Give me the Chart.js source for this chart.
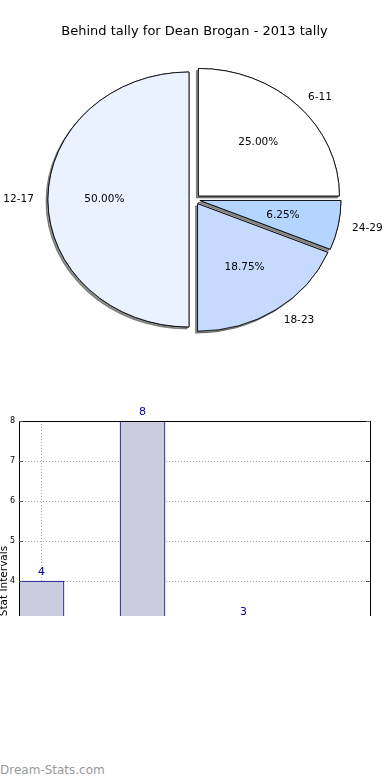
<!DOCTYPE html>
<html>
<head>
<meta charset="utf-8">
<script src="https://cdn.jsdelivr.net/npm/chart.js@4.4.0/dist/chart.umd.min.js"></script>
<style>
  html, body { margin: 0; padding: 0; background: #fff; }
  body { width: 390px; height: 780px; position: relative; overflow: hidden; }
  #pieBox { position: absolute; left: 0; top: 0; width: 390px; height: 400px; }
  #barBox { position: absolute; left: 0; top: 400px; width: 390px; height: 216px; overflow: hidden; }
  #mark { position: absolute; left: 0; top: 763px; font: 12px "DejaVu Sans"; color: #999; }
</style>
</head>
<body>
<div id="pieBox"><canvas id="pieChart" width="390" height="400"></canvas></div>
<div id="barBox"><canvas id="barChart" width="390" height="360"></canvas></div>
<div id="mark">Dream-Stats.com</div>
<script>
// pie slices, clockwise from 12 o'clock
const pieLabels = ['6-11', '24-29', '18-23', '12-17'];
const pieValues = [4, 1, 3, 8];
const pieColors = ['#ffffff', '#b3d5ff', '#c6daff', '#eaf1ff'];

// bar chart
const barLabels = ['6-11', '12-17', '18-23', '24-29'];
const barValues = [4, 8, 3, 1];
const yMin = 0;
const yMax = 8;

const pieTotal = pieValues.reduce((a, b) => a + b, 0);
const pieStretch = 1.106;   // the pie is drawn wider than tall
const explode = 5;

Chart.defaults.font.family = '"DejaVu Sans"';

// draws the slices itself: stretched into an ellipse, pushed out, with a shadow under them
const ellipsePie = {
    id: 'ellipsePie',
    beforeDatasetsDraw(chart) {
        const ctx = chart.ctx;
        const arcs = chart.getDatasetMeta(0).data;
        const cx = arcs[0].x, cy = arcs[0].y;
        let drawSlices = function () {
            arcs.forEach(a => {
                const mid = (a.startAngle + a.endAngle) / 2;
                ctx.save();
                ctx.translate(Math.cos(mid) * explode, Math.sin(mid) * explode);
                a.draw(ctx);
                ctx.restore();
            });
        };
        ctx.save();
        ctx.translate(cx, cy);
        ctx.scale(pieStretch, 1);
        ctx.translate(-cx, -cy);
        ctx.save();
        ctx.shadowColor = 'rgba(30,30,30,0.5)';
        ctx.shadowOffsetX = -2;
        ctx.shadowOffsetY = 2;
        ctx.shadowBlur = 0;
        drawSlices();
        ctx.restore();
        drawSlices();
        ctx.restore();
        return false;
    },
    afterDraw(chart) {
        const ctx = chart.ctx;
        const arcs = chart.getDatasetMeta(0).data;
        ctx.save();
        ctx.font = '10.5px "DejaVu Sans"';
        ctx.fillStyle = '#000';
        ctx.textBaseline = 'middle';
        arcs.forEach((a, i) => {
            const mid = (a.startAngle + a.endAngle) / 2;
            const R = a.outerRadius;
            let place = function (k) {
                const d = explode + k * R;
                return [a.x + pieStretch * Math.cos(mid) * d, a.y + Math.sin(mid) * d];
            };
            const [lx, ly] = place(1.1);
            ctx.textAlign = Math.cos(mid) > 0 ? 'left' : 'right';
            ctx.fillText(pieLabels[i], lx, ly);
            const [px, py] = place(0.6);
            ctx.textAlign = 'center';
            ctx.fillText((pieValues[i] / pieTotal * 100).toFixed(2) + '%', px, py);
        });
        ctx.restore();
    }
};

new Chart(document.getElementById('pieChart'), {
    type: 'pie',
    data: {
        labels: pieLabels,
        datasets: [{
            data: pieValues,
            backgroundColor: pieColors,
            borderColor: '#000',
            borderWidth: 0.8,
            radius: 127.5,
            clip: false,
        }]
    },
    options: {
        responsive: false,
        animation: false,
        events: [],
        layout: { padding: { left: 0, right: 1, top: 0, bottom: 40.6 } },
        plugins: {
            legend: { display: false },
            tooltip: { enabled: false },
            title: {
                display: true,
                text: 'Behind tally for Dean Brogan - 2013 tally',
                color: '#000',
                font: { size: 13, weight: 'normal' },
                padding: { top: 24, bottom: 0 },
            },
        },
    },
    plugins: [ellipsePie],
});

const barDecor = {
    id: 'barDecor',
    afterDatasetsDraw(chart) {
        const ctx = chart.ctx;
        const a = chart.chartArea;
        const ys = chart.scales.y;
        ctx.save();
        ctx.strokeStyle = '#000';
        ctx.lineWidth = 1;
        const l = Math.round(a.left), t = Math.round(a.top), r = Math.round(a.right);
        ctx.strokeRect(l + 0.5, t + 0.5, r - l, Math.round(a.bottom) - t);
        // small inward tick marks on both sides
        ctx.strokeStyle = '#555';
        ys.ticks.forEach(tk => {
            const py = Math.round(ys.getPixelForValue(tk.value)) + 0.5;
            ctx.beginPath();
            ctx.moveTo(l, py); ctx.lineTo(l + 4, py);
            ctx.moveTo(r, py); ctx.lineTo(r - 4, py);
            ctx.stroke();
        });
        ctx.font = '11px "DejaVu Sans"';
        ctx.fillStyle = '#0000a0';
        ctx.textAlign = 'center';
        ctx.textBaseline = 'middle';
        chart.getDatasetMeta(0).data.forEach((b, i) => {
            ctx.fillText(String(barValues[i]), b.x, b.y - 9);
        });
        ctx.restore();
    }
};

new Chart(document.getElementById('barChart'), {
    type: 'bar',
    data: {
        labels: barLabels,
        datasets: [{
            data: barValues.map((v, i) => ({ x: i, y: v })),
            backgroundColor: '#ccccdf',
            borderColor: '#00008b',
            borderWidth: 1,
            barThickness: 45,
        }]
    },
    options: {
        responsive: false,
        animation: false,
        events: [],
        layout: { padding: { top: 21, right: 20, left: 0, bottom: 0 } },
        plugins: {
            legend: { display: false },
            tooltip: { enabled: false },
        },
        scales: {
            x: {
                type: 'linear',
                min: -0.223,
                max: 3.252,
                offset: false,
                ticks: { display: false },
                afterBuildTicks: s => { s.ticks = barLabels.map((_, i) => ({ value: i })); },
                border: { display: false, dash: [1, 2] },
                grid: {
                    offset: false,
                    drawTicks: false,
                    color: c => (c.tick && c.tick.value === 0) ? '#aaaaaa' : 'transparent',
                },
                afterFit: s => { s.height = 19; },
            },
            y: {
                min: yMin,
                max: yMax,
                ticks: { stepSize: 1, color: '#000', font: { size: 8 }, padding: 4 },
                border: { display: false, dash: [1, 2] },
                grid: {
                    drawTicks: false,
                    color: c => (c.tick && c.tick.value > yMin && c.tick.value < yMax) ? '#aaaaaa' : 'transparent',
                },
                title: {
                    display: true,
                    text: 'Stat Intervals',
                    color: '#000',
                    font: { size: 10.5 },
                    padding: { top: -2, bottom: 0 },
                },
                afterFit: s => { s.width = 19; },
            },
        },
    },
    plugins: [barDecor],
});
</script>
</body>
</html>
